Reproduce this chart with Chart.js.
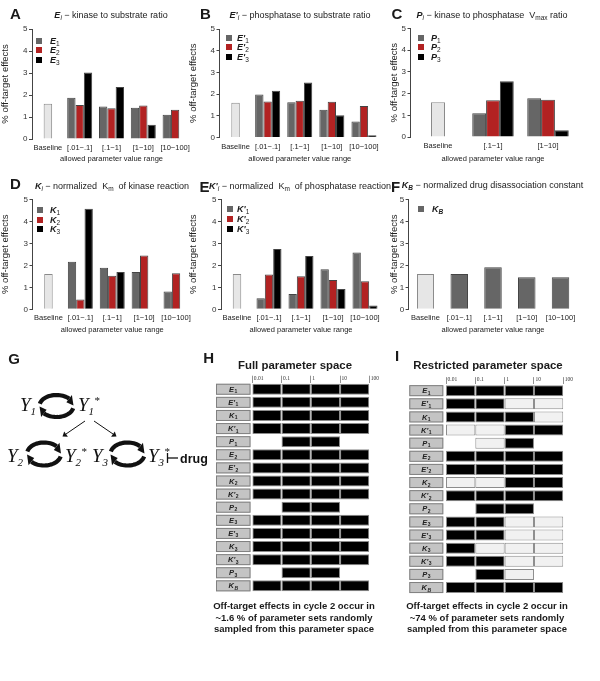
<!DOCTYPE html>
<html>
<head>
<meta charset="utf-8">
<title>Off-target effects</title>
<script src="https://cdn.jsdelivr.net/npm/chart.js@4.4.1/dist/chart.umd.min.js"></script>
<style>
html,body{margin:0;padding:0;background:#fff;}
#wrap{position:relative;width:600px;height:681px;overflow:hidden;font-family:'Liberation Sans',Arial,Helvetica,sans-serif;color:#1a1a1a;}
#wrap canvas{position:absolute;}
.ov{position:absolute;white-space:nowrap;z-index:2;}
.letter{font-weight:bold;font-size:15px;line-height:15px;}
.pt{font-size:9px;line-height:10px;transform:translateX(-50%);}
.pt sub,.lg sub{font-size:6.5px;vertical-align:-2px;line-height:0;}
.lg{font-size:9px;line-height:10px;}
.sq{position:absolute;width:6px;height:6px;z-index:2;}
.gt{font-weight:bold;font-size:11.4px;line-height:13px;transform:translateX(-50%);}
.cap{font-weight:bold;font-size:9.5px;line-height:11.3px;text-align:center;transform:translateX(-50%);}
</style>
</head>
<body>
<div id="wrap">
  <canvas id="cA" width="600" height="170" style="left:0;top:0"></canvas>
  <canvas id="cB" width="600" height="170" style="left:0;top:0"></canvas>
  <canvas id="cC" width="600" height="170" style="left:0;top:0"></canvas>
  <canvas id="cD" width="600" height="170" style="left:0;top:170px"></canvas>
  <canvas id="cE" width="600" height="170" style="left:0;top:170px"></canvas>
  <canvas id="cF" width="600" height="170" style="left:0;top:170px"></canvas>
  <canvas id="cH" width="200" height="234" style="left:200px;top:366px"></canvas>
  <canvas id="cI" width="200" height="234" style="left:400px;top:366px"></canvas>

  <!-- panel letters -->
  <div class="ov letter" style="left:10px;top:5.6px">A</div>
  <div class="ov letter" style="left:200px;top:5.6px">B</div>
  <div class="ov letter" style="left:391.5px;top:5.6px">C</div>
  <div class="ov letter" style="left:10px;top:175.6px">D</div>
  <div class="ov letter" style="left:199.5px;top:178.8px">E</div>
  <div class="ov letter" style="left:391px;top:178.8px">F</div>
  <div class="ov letter" style="left:8.3px;top:351.3px">G</div>
  <div class="ov letter" style="left:203.3px;top:350px">H</div>
  <div class="ov letter" style="left:395px;top:348.3px">I</div>

  <!-- panel titles -->
  <div class="ov pt" style="left:111px;top:10px"><b><i>E</i></b><sub><i>i</i></sub> &minus; kinase to substrate ratio</div>
  <div class="ov pt" style="left:300px;top:10px"><b><i>E'</i></b><sub><i>i</i></sub> &minus; phosphatase to substrate ratio</div>
  <div class="ov pt" style="left:492px;top:10px"><b><i>P</i></b><sub><i>i</i></sub> &minus; kinase to phosphatase&nbsp; V<sub>max</sub> ratio</div>
  <div class="ov pt" style="left:112px;top:181px"><b><i>K</i></b><sub><i>i</i></sub> &minus; normalized&nbsp; K<sub>m</sub>&nbsp; of kinase reaction</div>
  <div class="ov pt" style="left:300px;top:181px"><b><i>K'</i></b><sub><i>i</i></sub> &minus; normalized&nbsp; K<sub>m</sub>&nbsp; of phosphatase reaction</div>
  <div class="ov pt" style="left:492.5px;top:180px"><b><i>K</i></b><sub><b><i>B</i></b></sub> &minus; normalized drug disassociation constant</div>

  <!-- legends -->
  <div class="sq" style="left:36px;top:37.7px;background:#666"></div>
  <div class="ov lg" style="left:50px;top:35.7px"><b><i>E</i></b><sub>1</sub></div>
  <div class="sq" style="left:36px;top:47.3px;background:#b22222"></div>
  <div class="ov lg" style="left:50px;top:45.3px"><b><i>E</i></b><sub>2</sub></div>
  <div class="sq" style="left:36px;top:56.6px;background:#000"></div>
  <div class="ov lg" style="left:50px;top:54.6px"><b><i>E</i></b><sub>3</sub></div>

  <div class="sq" style="left:226px;top:35.3px;background:#666"></div>
  <div class="ov lg" style="left:237px;top:33.3px"><b><i>E'</i></b><sub>1</sub></div>
  <div class="sq" style="left:226px;top:44.3px;background:#b22222"></div>
  <div class="ov lg" style="left:237px;top:42.3px"><b><i>E'</i></b><sub>2</sub></div>
  <div class="sq" style="left:226px;top:53.7px;background:#000"></div>
  <div class="ov lg" style="left:237px;top:51.7px"><b><i>E'</i></b><sub>3</sub></div>

  <div class="sq" style="left:418px;top:35.3px;background:#666"></div>
  <div class="ov lg" style="left:431px;top:33.3px"><b><i>P</i></b><sub>1</sub></div>
  <div class="sq" style="left:418px;top:44.3px;background:#b22222"></div>
  <div class="ov lg" style="left:431px;top:42.3px"><b><i>P</i></b><sub>2</sub></div>
  <div class="sq" style="left:418px;top:53.7px;background:#000"></div>
  <div class="ov lg" style="left:431px;top:51.7px"><b><i>P</i></b><sub>3</sub></div>

  <div class="sq" style="left:37px;top:207px;background:#666"></div>
  <div class="ov lg" style="left:50px;top:205px"><b><i>K</i></b><sub>1</sub></div>
  <div class="sq" style="left:37px;top:216.7px;background:#b22222"></div>
  <div class="ov lg" style="left:50px;top:214.7px"><b><i>K</i></b><sub>2</sub></div>
  <div class="sq" style="left:37px;top:226.4px;background:#000"></div>
  <div class="ov lg" style="left:50px;top:224.4px"><b><i>K</i></b><sub>3</sub></div>

  <div class="sq" style="left:227px;top:206.3px;background:#666"></div>
  <div class="ov lg" style="left:237px;top:204.3px"><b><i>K'</i></b><sub>1</sub></div>
  <div class="sq" style="left:227px;top:216.3px;background:#b22222"></div>
  <div class="ov lg" style="left:237px;top:214.3px"><b><i>K'</i></b><sub>2</sub></div>
  <div class="sq" style="left:227px;top:226.3px;background:#000"></div>
  <div class="ov lg" style="left:237px;top:224.3px"><b><i>K'</i></b><sub>3</sub></div>

  <div class="sq" style="left:418px;top:206.3px;background:#666"></div>
  <div class="ov lg" style="left:432px;top:204.3px"><b><i>K</i></b><sub><b><i>B</i></b></sub></div>

  <!-- H / I titles and captions -->
  <div class="ov gt" style="left:295px;top:358.5px">Full parameter space</div>
  <div class="ov gt" style="left:488px;top:358.5px">Restricted parameter space</div>
  <div class="ov cap" style="left:294px;top:600.3px">Off-target effects in cycle 2 occur in<br>~1.6 % of parameter sets randomly<br>sampled from this parameter space</div>
  <div class="ov cap" style="left:487px;top:600.3px">Off-target effects in cycle 2 occur in<br>~74 % of parameter sets randomly<br>sampled from this parameter space</div>

  <!-- G: reaction scheme -->
  <svg id="diag" width="215" height="681" style="position:absolute;left:0;top:0;z-index:1" xmlns="http://www.w3.org/2000/svg">
    <g id="cycles"></g>
    <g font-family="'Liberation Serif','DejaVu Serif',serif" font-style="italic" fill="#111">
      <text x="20" y="411" font-size="19">Y<tspan font-size="11" dy="4">1</tspan></text>
      <text x="78" y="411" font-size="19">Y<tspan font-size="11" dy="4">1</tspan><tspan font-size="11" dy="-11">*</tspan></text>
      <text x="7" y="462" font-size="19">Y<tspan font-size="11" dy="4">2</tspan></text>
      <text x="65" y="462" font-size="19">Y<tspan font-size="11" dy="4">2</tspan><tspan font-size="11" dy="-11">*</tspan></text>
      <text x="92" y="462" font-size="19">Y<tspan font-size="11" dy="4">3</tspan></text>
      <text x="148" y="462" font-size="19">Y<tspan font-size="11" dy="4">3</tspan><tspan font-size="11" dy="-11">*</tspan></text>
    </g>
    <g stroke="#111" stroke-width="1" fill="#111">
      <line x1="85" y1="421" x2="66" y2="434"/>
      <path d="M62.5 436.5 L64.2 431.6 L67.9 436.8 Z" stroke="none"/>
      <line x1="94" y1="421" x2="113" y2="434"/>
      <path d="M116.5 436.5 L111.1 436.8 L114.8 431.6 Z" stroke="none"/>
      <line x1="167.5" y1="453" x2="167.5" y2="463" stroke-width="1.3"/>
      <line x1="167.5" y1="458" x2="178" y2="458" stroke-width="1.3"/>
    </g>
    <text x="180" y="462.5" font-family="'Liberation Sans',Arial,sans-serif" font-weight="bold" font-size="12.5" fill="#111">drug</text>
  </svg>
</div>

<script>
// ================= DATA =================
const rangeLabels = ['Baseline', '[.01\u2212.1]', '[.1\u22121]', '[1\u221210]', '[10\u2212100]'];
const rangeLabelsP = ['Baseline', '[.1\u22121]', '[1\u221210]'];
const baselinePct = 1.6;

const E1 = [1.87, 1.48, 1.42, 1.10];
const E2 = [1.55, 1.40, 1.52, 1.33];
const E3 = [3.02, 2.36, 0.65, 0.02];

const Ep1 = [1.98, 1.62, 1.28, 0.74];
const Ep2 = [1.66, 1.69, 1.65, 1.45];
const Ep3 = [2.16, 2.53, 1.03, 0.10];

const P1 = [1.09, 1.78];
const P2 = [1.69, 1.72];
const P3 = [2.57, 0.31];

const K1 = [2.16, 1.89, 1.70, 0.81];
const K2 = [0.45, 1.53, 2.45, 1.64];
const K3 = [4.57, 1.70, 0.02, 0.02];

const Kp1 = [0.50, 0.70, 1.82, 2.58];
const Kp2 = [1.58, 1.50, 1.33, 1.27];
const Kp3 = [2.74, 2.42, 0.92, 0.17];

const KB = [1.61, 1.91, 1.46, 1.46];

const decadeEdges = [0.01, 0.1, 1, 10, 100];
const decadeLabels = ['0.01', '0.1', '1', '10', '100'];
const paramRows = ["E1","E'1","K1","K'1","P1","E2","E'2","K2","K'2","P2","E3","E'3","K3","K'3","P3","KB"];
// 1 = range sampled, off-target effect possible (black); 0 = excluded (light); null = not part of range
const fullSpace = [
  [1,1,1,1],[1,1,1,1],[1,1,1,1],[1,1,1,1],[null,1,1,null],
  [1,1,1,1],[1,1,1,1],[1,1,1,1],[1,1,1,1],[null,1,1,null],
  [1,1,1,1],[1,1,1,1],[1,1,1,1],[1,1,1,1],[null,1,1,null],
  [1,1,1,1]
];
const restrictedSpace = [
  [1,1,1,1],[1,1,0,0],[1,1,1,0],[0,0,1,1],[null,0,1,null],
  [1,1,1,1],[1,1,1,1],[0,0,1,1],[1,1,1,1],[null,1,1,null],
  [1,1,0,0],[1,1,0,0],[1,0,0,0],[1,1,0,0],[null,1,0,null],
  [1,1,1,1]
];

// ================= STYLE =================
Chart.defaults.font.family = "'Liberation Sans', Arial, Helvetica, sans-serif";
Chart.defaults.color = '#222';
const GREY = '#666666', RED = '#b22222', BLACK = '#000000', EDGE = '#444444';

function barPanel(id, g, labels, series) {
  const n = labels.length;
  const spacing = (g.right - g.left) / n;
  const padLeft = Math.max(0, g.titleX - 5.7);
  const datasets = [{
    label: 'Baseline',
    data: labels.map((_, i) => i === 0 ? baselinePct : null),
    backgroundColor: '#e6e6e6', borderColor: '#8a8a8a', borderWidth: 1,
    grouped: false, categoryPercentage: 1, barPercentage: g.baseW / spacing
  }];
  series.forEach(s => datasets.push({
    label: s.name,
    data: [null, ...s.values],
    backgroundColor: s.color, borderColor: EDGE, borderWidth: 1,
    categoryPercentage: g.groupW / spacing, barPercentage: 1
  }));
  new Chart(document.getElementById(id), {
    type: 'bar',
    data: { labels, datasets },
    options: {
      responsive: false, animation: false,
      layout: { padding: { left: padLeft, right: 600 - g.right, top: g.top, bottom: 170 - g.xTitleY - 4.5 } },
      plugins: { legend: { display: false }, tooltip: { enabled: false } },
      scales: {
        x: {
          grid: { display: false, drawTicks: false }, border: { display: false },
          ticks: { font: { size: 7.5 }, color: '#222', padding: 4.6, autoSkip: false, maxRotation: 0, minRotation: 0 },
          title: { display: true, text: 'allowed parameter value range', font: { size: 7.5 }, color: '#222', padding: 0 },
          afterFit: s => { s.height = g.xTitleY + 4.5 - g.bottom; }
        },
        y: {
          min: 0, max: 5,
          ticks: { stepSize: 1, font: { size: 8 }, color: '#333', padding: 1.5 },
          grid: { drawOnChartArea: false, drawTicks: true, tickLength: 3, color: '#444', lineWidth: 1 },
          border: { display: true, color: '#444', width: 1 },
          title: { display: true, text: '% off-target effects', font: { size: 9.5 }, color: '#222', padding: { top: 0, bottom: 0 } },
          afterFit: s => { s.width = g.left - padLeft; }
        }
      }
    }
  });
}

const geomSmall = { baseW: 8.5, groupW: 25 };
barPanel('cA', Object.assign({ titleX: 5, left: 32, right: 191, top: 29, bottom: 139, xTitleY: 159 }, geomSmall),
  rangeLabels, [{ name: 'E1', values: E1, color: GREY }, { name: 'E2', values: E2, color: RED }, { name: 'E3', values: E3, color: BLACK }]);
barPanel('cB', Object.assign({ titleX: 193, left: 219.5, right: 380, top: 29, bottom: 137.5, xTitleY: 159 }, geomSmall),
  rangeLabels, [{ name: "E'1", values: Ep1, color: GREY }, { name: "E'2", values: Ep2, color: RED }, { name: "E'3", values: Ep3, color: BLACK }]);
barPanel('cC', { titleX: 394, left: 410.5, right: 575.5, top: 28.5, bottom: 137, xTitleY: 159, baseW: 14, groupW: 41.5 },
  rangeLabelsP, [{ name: 'P1', values: P1, color: GREY }, { name: 'P2', values: P2, color: RED }, { name: 'P3', values: P3, color: BLACK }]);
barPanel('cD', Object.assign({ titleX: 5, left: 32.5, right: 192, top: 29.3, bottom: 139.3, xTitleY: 160 }, geomSmall),
  rangeLabels, [{ name: 'K1', values: K1, color: GREY }, { name: 'K2', values: K2, color: RED }, { name: 'K3', values: K3, color: BLACK }]);
barPanel('cE', Object.assign({ titleX: 193, left: 221, right: 381, top: 29.3, bottom: 139.3, xTitleY: 160 }, geomSmall),
  rangeLabels, [{ name: "K'1", values: Kp1, color: GREY }, { name: "K'2", values: Kp2, color: RED }, { name: "K'3", values: Kp3, color: BLACK }]);
barPanel('cF', { titleX: 394, left: 408.6, right: 577.4, top: 29.3, bottom: 139.3, xTitleY: 160, baseW: 17, groupW: 17.5 },
  rangeLabels, [{ name: 'KB', values: KB, color: GREY }]);

// ---------- H / I parameter-range grids ----------
const rowBoxPlugin = {
  id: 'rowBoxes',
  afterDraw(chart, args, opts) {
    const ctx = chart.ctx, ys = chart.scales.y, area = chart.chartArea;
    const x0 = area.left - opts.gap - opts.width;
    const h = ys.getPixelForValue(1) - ys.getPixelForValue(0);
    const bh = h * opts.frac;
    ctx.save();
    chart.data.labels.forEach((name, i) => {
      const yc = ys.getPixelForValue(i);
      ctx.fillStyle = '#c4c4c4';
      ctx.fillRect(x0, yc - bh / 2, opts.width, bh);
      ctx.strokeStyle = '#808080'; ctx.lineWidth = 1;
      ctx.strokeRect(x0 + 0.5, yc - bh / 2 + 0.5, opts.width - 1, bh - 1);
      const main = name.slice(0, -1), sub = name.slice(-1);
      const fMain = "italic bold 7.5px 'Liberation Sans', Arial, sans-serif";
      const fSub = (sub === 'B' ? "italic bold " : "bold ") + "5px 'Liberation Sans', Arial, sans-serif";
      ctx.font = fMain; const wm = ctx.measureText(main).width;
      ctx.font = fSub; const wsub = ctx.measureText(sub).width;
      let tx = x0 + opts.width / 2 - (wm + wsub + 0.5) / 2;
      ctx.fillStyle = '#222'; ctx.textBaseline = 'alphabetic'; ctx.textAlign = 'left';
      ctx.font = fMain; ctx.fillText(main, tx, yc + 2.6);
      ctx.font = fSub; ctx.fillText(sub, tx + wm + 0.5, yc + 4);
    });
    ctx.restore();
  }
};

function gridPanel(id, g, states) {
  const datasets = decadeEdges.slice(0, -1).map((lo, d) => ({
    label: decadeLabels[d] + '-' + decadeLabels[d + 1],
    data: states.map(r => r[d] === null ? null : [lo, decadeEdges[d + 1]]),
    backgroundColor: states.map(r => r[d] === 1 ? '#000000' : '#f1f1f1'),
    borderColor: '#8c8c8c', borderWidth: 1, borderSkipped: false,
    grouped: false, categoryPercentage: 1, barPercentage: g.frac
  }));
  new Chart(document.getElementById(id), {
    type: 'bar',
    data: { labels: paramRows, datasets },
    options: {
      indexAxis: 'y', responsive: false, animation: false,
      layout: { padding: { left: g.left, right: g.W - g.right, top: g.top - 12, bottom: g.H - g.bottom } },
      plugins: { legend: { display: false }, tooltip: { enabled: false },
        rowBoxes: { width: g.boxW, gap: g.gap, frac: g.frac } },
      scales: {
        x: {
          type: 'logarithmic', position: 'top', min: 0.01, max: 100,
          afterBuildTicks: s => { s.ticks = decadeEdges.map(v => ({ value: v })); },
          afterFit: s => { s.height = 12; },
          ticks: { callback: (v, i) => decadeLabels[i], align: 'start', labelOffset: 1.5, padding: -6,
                   font: { family: "'Liberation Serif', 'DejaVu Serif', serif", size: 5.5 }, color: '#333',
                   autoSkip: false, maxRotation: 0, minRotation: 0 },
          grid: { drawOnChartArea: false, drawTicks: true, tickLength: 7, color: '#777', lineWidth: 0.8 },
          border: { display: false }
        },
        y: { type: 'category', display: false }
      }
    },
    plugins: [rowBoxPlugin]
  });
}

gridPanel('cH', { W: 200, H: 234, left: 52.3, right: 169.3, top: 16.7, bottom: 226.4, boxW: 34.5, gap: 1.8, frac: 0.84 }, fullSpace);
gridPanel('cI', { W: 200, H: 234, left: 46, right: 163.3, top: 18.1, bottom: 228.1, boxW: 34, gap: 2.7, frac: 0.84 }, restrictedSpace);

// ---------- G: cyclic arrows (diagram decoration) ----------
(function drawCycles() {
  const NS = 'http://www.w3.org/2000/svg';
  const grp = document.getElementById('cycles');
  const pt = (c, th) => { const r = th * Math.PI / 180; return [c.cx + c.rx * Math.cos(r), c.cy - c.ry * Math.sin(r)]; };
  const arc = (c, a0, a1) => {
    let d = '';
    for (let k = 0; k <= 24; k++) { const p = pt(c, a0 + (a1 - a0) * k / 24); d += (k ? 'L' : 'M') + p[0].toFixed(2) + ' ' + p[1].toFixed(2); }
    return d;
  };
  const head = (c, tb, tt, w) => {
    const b = pt(c, tb), t = pt(c, tt), b2 = pt(c, tb + (tt - tb) * 0.05);
    let dx = b2[0] - b[0], dy = b2[1] - b[1]; const L = Math.hypot(dx, dy); dx /= L; dy /= L;
    const nx = -dy, ny = dx;
    return `M${b[0] + nx * w} ${b[1] + ny * w}L${t[0]} ${t[1]}L${b[0] - nx * w} ${b[1] - ny * w}Z`;
  };
  const add = (tag, attrs) => { const e = document.createElementNS(NS, tag); for (const k in attrs) e.setAttribute(k, attrs[k]); grp.appendChild(e); };
  [{ cx: 56.5, cy: 406, rx: 17, ry: 11 }, { cx: 44, cy: 454, rx: 17, ry: 11.5 }, { cx: 127.5, cy: 454, rx: 17, ry: 11.5 }].forEach(c => {
    add('path', { d: arc(c, 168, 42), fill: 'none', stroke: '#111', 'stroke-width': 4.2 });
    add('path', { d: head(c, 42, 2, 4.6), fill: '#111' });
    add('path', { d: arc(c, -12, -138), fill: 'none', stroke: '#111', 'stroke-width': 4.2 });
    add('path', { d: head(c, -138, -178, 4.6), fill: '#111' });
  });
})();
</script>
</body>
</html>
